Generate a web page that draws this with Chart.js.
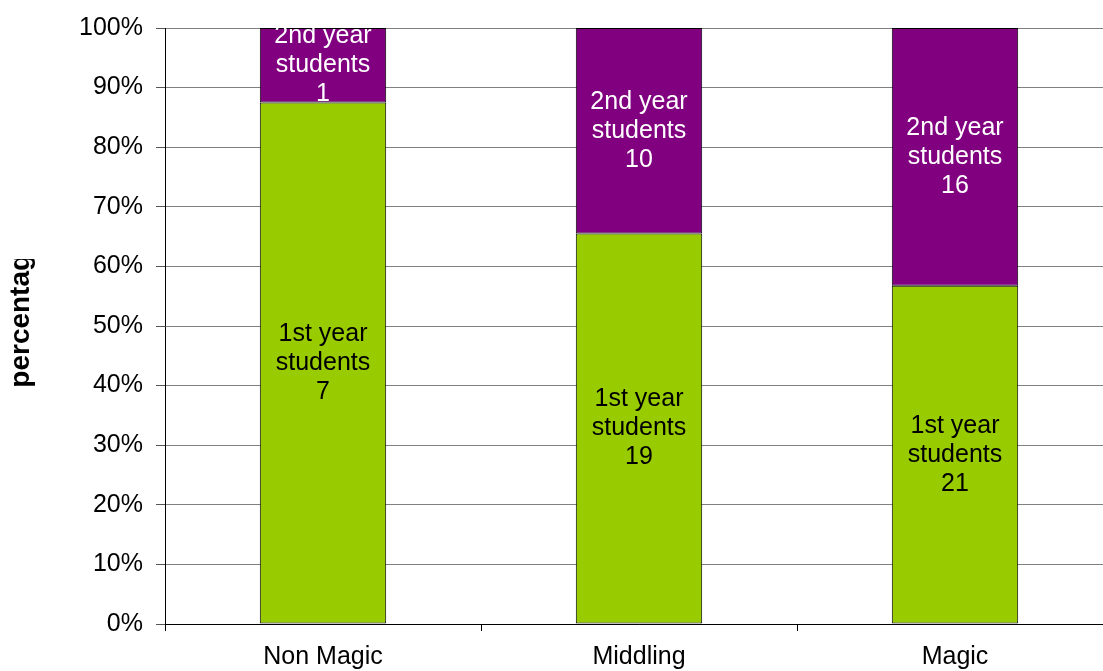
<!DOCTYPE html>
<html>
<head>
<meta charset="utf-8">
<script src="https://cdn.jsdelivr.net/npm/chart.js@4.4.0/dist/chart.umd.min.js"></script>
<style>
body{margin:0;overflow:hidden;background:#fff}
canvas{position:absolute;left:0;top:0}
</style>
</head>
<body>
<canvas id="studentChart" width="1120" height="671"></canvas>
<script>
// student counts per group
const groups = ['Non Magic', 'Middling', 'Magic']
const firstYear = [7, 19, 21]
const secondYear = [1, 10, 16]
const seriesNames = ['1st year', '2nd year']
const yTitle = 'percentage'

const FONT = "'Liberation Sans', Arial, sans-serif"

// turn counts into share of each group's total
function toPercent(arr) {
  return arr.map(function (v, i) {
    return v / (firstYear[i] + secondYear[i]) * 100
  })
}

// three line label in the middle of each segment
const segmentLabels = {
  id: 'segmentLabels',
  afterDatasetsDraw(chart) {
    const ctx = chart.ctx
    ctx.save()
    ctx.font = '25px ' + FONT
    ctx.textAlign = 'center'
    ctx.textBaseline = 'middle'
    chart.data.datasets.forEach(function (ds, d) {
      const meta = chart.getDatasetMeta(d)
      meta.data.forEach(function (bar, i) {
        const mid = (bar.y + bar.base) / 2
        const lines = [seriesNames[d], 'students', String(ds.counts[i])]
        ctx.fillStyle = d == 0 ? '#000' : '#fff'
        for (let k = 0; k < lines.length; k++) {
          ctx.fillText(lines[k], bar.x, mid + (k - 1) * 29)
        }
      })
    })
    ctx.restore()
  }
}

// rotated axis title, cut off at the top like the original frame
const sideTitle = {
  id: 'sideTitle',
  afterDraw(chart) {
    const ctx = chart.ctx
    ctx.save()
    ctx.beginPath()
    ctx.rect(0, 259, 70, 400)
    ctx.clip()
    ctx.translate(29, 313)
    ctx.rotate(-Math.PI / 2)
    ctx.font = 'bold 28px ' + FONT
    ctx.fillStyle = '#000'
    ctx.textAlign = 'center'
    ctx.textBaseline = 'alphabetic'
    ctx.fillText(yTitle, 0, 0)
    ctx.restore()
  }
}

new Chart(document.getElementById('studentChart'), {
  type: 'bar',
  data: {
    labels: groups,
    datasets: [{
      label: seriesNames[0],
      data: toPercent(firstYear),
      counts: firstYear,
      backgroundColor: '#99cc00',
      borderColor: '#000',
      borderWidth: 1,
      borderSkipped: false,
      barPercentage: 1,
      categoryPercentage: 0.4
    }, {
      label: seriesNames[1],
      data: toPercent(secondYear),
      counts: secondYear,
      backgroundColor: '#800080',
      borderColor: '#000',
      borderWidth: 1,
      borderSkipped: false,
      barPercentage: 1,
      categoryPercentage: 0.4
    }]
  },
  options: {
    responsive: false,
    animation: false,
    layout: { padding: { top: 23, right: 7, left: 0, bottom: 0 } },
    plugins: {
      legend: { display: false },
      tooltip: { enabled: false }
    },
    scales: {
      x: {
        stacked: true,
        grid: { drawOnChartArea: false, offset: true, tickLength: 7, color: '#000' },
        border: { color: '#000' },
        ticks: { color: '#000', font: { family: FONT, size: 25 }, padding: 11, maxRotation: 0 },
        afterFit(s) { s.height = 47 }
      },
      y: {
        stacked: true,
        min: 0,
        max: 100,
        grid: {
          color: function (c) { return c.tick && c.tick.value == 0 ? '#000' : '#808080' },
          tickLength: 9,
          tickColor: '#555'
        },
        border: { color: '#000' },
        ticks: {
          stepSize: 10,
          color: '#000',
          font: { family: FONT, size: 25 },
          padding: 13,
          callback: function (v) { return v + '%' }
        },
        afterFit(s) { s.width = 165 }
      }
    }
  },
  plugins: [segmentLabels, sideTitle]
})
</script>
</body>
</html>
